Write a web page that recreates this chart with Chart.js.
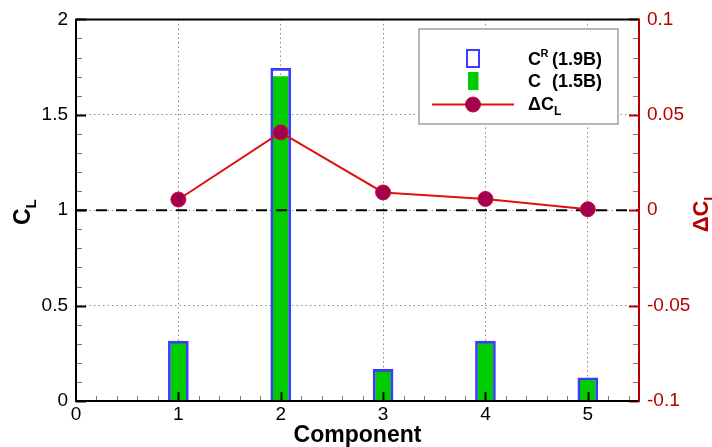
<!DOCTYPE html>
<html>
<head>
<meta charset="utf-8">
<script src="https://cdn.jsdelivr.net/npm/chart.js@4.4.0/dist/chart.umd.min.js"></script>
<style>
  html, body { margin: 0; padding: 0; background: #ffffff; }
  #wrap { width: 712px; height: 447px; }
</style>
</head>
<body>
<div id="wrap"><canvas id="cl" width="712" height="447"></canvas></div>
<script>
// Lift coefficient per component
const components = [1, 2, 3, 4, 5];
const clRefined = [0.314, 1.743, 0.166, 0.314, 0.122];   // C^R (1.9B)
const clBase    = [0.305, 1.700, 0.155, 0.305, 0.114];   // C   (1.5B)
const deltaCL   = [0.0056, 0.0408, 0.0093, 0.0059, 0.0005];

// Axis ticks
const xTicks  = [0, 1, 2, 3, 4, 5];
const yTicks  = [0, 0.5, 1, 1.5, 2];
const y2Ticks = [-0.1, -0.05, 0, 0.05, 0.1];
const xRange  = [0, 5.5];
const yRange  = [0, 2];
const y2Range = [-0.1, 0.1];
const xMinorStep = 0.2, yMinorStep = 0.1, y2MinorStep = 0.01;
const referenceCL = 1;

const FONT = '"Liberation Sans", Arial, Helvetica, sans-serif';
const AXIS_RED = '#b50000';
const LINE_RED = '#e01010';
const MARKER = '#a3004d';
const BLUE = '#3a3cff';
const GREEN = '#00cc00';

const pts = (xs, ys) => xs.map((x, i) => ({ x: x, y: ys[i] }));
const setTicks = vals => scale => { scale.ticks = vals.map(v => ({ value: v })); };
const dottedGrid = { display: true, color: '#8a8a8a', lineWidth: 1, drawTicks: false, tickLength: 0 };
const dottedBorder = { display: false, dash: [1.5, 3] };

// Text with an optional sub- or superscript part
function richText(ctx, x, y, parts) {
  let cx = x;
  for (const p of parts) {
    ctx.font = p.font;
    ctx.fillText(p.t, cx, y + (p.dy || 0));
    cx += ctx.measureText(p.t).width + (p.gap || 0);
  }
  return cx;
}
function richWidth(ctx, parts) {
  let w = 0;
  for (const p of parts) { ctx.font = p.font; w += ctx.measureText(p.t).width + (p.gap || 0); }
  return w;
}

const framePlugin = {
  id: 'frame',
  afterDatasetsDraw(chart) {
    const { ctx, chartArea: a, scales } = chart;
    const sx = scales.x, sy = scales.y, sy2 = scales.y2;
    ctx.save();
    ctx.lineCap = 'butt';

    // inward minor / major ticks
    function tickX(v, len, color, w) {
      const p = Math.round(sx.getPixelForValue(v)) + 0.5;
      ctx.strokeStyle = color; ctx.lineWidth = w;
      ctx.beginPath(); ctx.moveTo(p, a.bottom); ctx.lineTo(p, a.bottom - len); ctx.stroke();
    }
    function tickY(scale, v, len, color, w, right) {
      const p = Math.round(scale.getPixelForValue(v)) + 0.5;
      const x0 = right ? a.right : a.left;
      ctx.strokeStyle = color; ctx.lineWidth = w;
      ctx.beginPath(); ctx.moveTo(x0, p); ctx.lineTo(right ? x0 - len : x0 + len, p); ctx.stroke();
    }
    const nx = Math.round((xRange[1] - xRange[0]) / xMinorStep);
    for (let i = 1; i < nx; i++) {
      const v = xRange[0] + i * xMinorStep;
      if (Math.abs(v - Math.round(v)) > 1e-6) tickX(v, 5, '#777', 1);
    }
    xTicks.forEach(v => { if (v > xRange[0]) tickX(v, 9, '#000', 2); });

    const ny = Math.round((yRange[1] - yRange[0]) / yMinorStep);
    for (let i = 1; i < ny; i++) {
      const v = yRange[0] + i * yMinorStep;
      if (!yTicks.some(t => Math.abs(t - v) < 1e-6)) tickY(sy, v, 6, '#777', 1, false);
    }
    yTicks.forEach(v => tickY(sy, v, 10, '#000', 2, false));

    const ny2 = Math.round((y2Range[1] - y2Range[0]) / y2MinorStep);
    for (let i = 1; i < ny2; i++) {
      const v = y2Range[0] + i * y2MinorStep;
      if (!y2Ticks.some(t => Math.abs(t - v) < 1e-6)) tickY(sy2, v, 6, '#d06060', 1, true);
    }
    y2Ticks.forEach(v => tickY(sy2, v, 10, AXIS_RED, 2, true));

    // frame
    ctx.lineWidth = 2;
    ctx.strokeStyle = '#000';
    ctx.beginPath();
    ctx.moveTo(a.right, a.top); ctx.lineTo(a.left, a.top); ctx.lineTo(a.left, a.bottom); ctx.lineTo(a.right, a.bottom);
    ctx.stroke();
    ctx.strokeStyle = AXIS_RED;
    ctx.beginPath(); ctx.moveTo(a.right, a.top - 1); ctx.lineTo(a.right, a.bottom + 1); ctx.stroke();
    ctx.restore();
  },
  afterDraw(chart) {
    const { ctx, chartArea: a } = chart;
    ctx.save();
    ctx.textBaseline = 'alphabetic';

    // x title
    ctx.fillStyle = '#000';
    ctx.font = 'bold 23px ' + FONT;
    ctx.textAlign = 'center';
    ctx.fillText('Component', (a.left + a.right) / 2, 442);
    ctx.textAlign = 'left';

    // left title C_L
    const leftParts = [
      { t: 'C', font: 'bold 23px ' + FONT },
      { t: 'L', font: 'bold 15px ' + FONT, dy: 6 }
    ];
    ctx.save();
    ctx.translate(30, (a.top + a.bottom) / 2 + 2);
    ctx.rotate(-Math.PI / 2);
    richText(ctx, -richWidth(ctx, leftParts) / 2, 0, leftParts);
    ctx.restore();

    // right title ΔC_L
    const rightParts = [
      { t: '\u0394C', font: 'bold 22px ' + FONT },
      { t: 'L', font: 'bold 14px ' + FONT, dy: 6 }
    ];
    ctx.save();
    ctx.fillStyle = AXIS_RED;
    ctx.translate(708, (a.top + a.bottom) / 2 + 2);
    ctx.rotate(-Math.PI / 2);
    richText(ctx, -richWidth(ctx, rightParts) / 2, 0, rightParts);
    ctx.restore();

    // legend
    const L = { x: 419, y: 29, w: 199, h: 95 };
    ctx.fillStyle = '#fff';
    ctx.fillRect(L.x, L.y, L.w, L.h);
    ctx.strokeStyle = '#a0a0a0'; ctx.lineWidth = 1.5;
    ctx.strokeRect(L.x, L.y, L.w, L.h);

    ctx.strokeStyle = BLUE; ctx.lineWidth = 2;
    ctx.strokeRect(467, 50, 12, 17);
    ctx.fillStyle = GREEN;
    ctx.fillRect(468, 72, 10.5, 18);
    ctx.strokeStyle = LINE_RED; ctx.lineWidth = 2;
    ctx.beginPath(); ctx.moveTo(432, 104.5); ctx.lineTo(514, 104.5); ctx.stroke();
    ctx.fillStyle = MARKER; ctx.strokeStyle = '#cc1030'; ctx.lineWidth = 1;
    ctx.beginPath(); ctx.arc(473, 104.5, 7.5, 0, Math.PI * 2); ctx.fill(); ctx.stroke();

    ctx.fillStyle = '#000';
    const bf = 'bold 18px ' + FONT;
    ctx.font = bf;
    ctx.fillText('C', 528, 65);
    ctx.font = 'bold 11px ' + FONT;
    ctx.fillText('R', 540.5, 57);
    ctx.font = bf;
    ctx.fillText('(1.9B)', 552, 65);
    ctx.fillText('C', 528, 87);
    ctx.fillText('(1.5B)', 552, 87);
    richText(ctx, 528, 110, [
      { t: '\u0394C', font: bf },
      { t: 'L', font: 'bold 12px ' + FONT, dy: 5 }
    ]);
    ctx.restore();
  }
};

new Chart(document.getElementById('cl'), {
  type: 'bar',
  data: {
    datasets: [
      {
        type: 'line',
        label: '\u0394CL',
        data: pts(components, deltaCL),
        yAxisID: 'y2',
        borderColor: LINE_RED,
        borderWidth: 2,
        pointRadius: 7.5,
        pointBackgroundColor: MARKER,
        pointBorderColor: '#cc1030',
        pointBorderWidth: 1,
        tension: 0,
        order: 0
      },
      {
        type: 'line',
        label: 'reference',
        data: [{ x: xRange[0], y: referenceCL }, { x: xRange[1], y: referenceCL }],
        yAxisID: 'y',
        borderColor: '#000',
        borderWidth: 2,
        borderDash: [11, 9],
        pointRadius: 0,
        order: 1
      },
      {
        label: 'C^R (1.9B)',
        data: pts(components, clRefined),
        yAxisID: 'y',
        backgroundColor: 'rgba(0,0,0,0)',
        borderColor: BLUE,
        borderWidth: { top: 2, left: 2, right: 2, bottom: 0 },
        borderSkipped: false,
        barThickness: 20,
        grouped: false,
        order: 2
      },
      {
        label: 'C (1.5B)',
        data: pts(components, clBase),
        yAxisID: 'y',
        backgroundColor: GREEN,
        borderWidth: 0,
        barThickness: 15,
        grouped: false,
        order: 3
      }
    ]
  },
  options: {
    responsive: false,
    animation: false,
    events: [],
    layout: { padding: { top: 19, left: 0, right: 0, bottom: 0 } },
    plugins: { legend: { display: false }, tooltip: { enabled: false } },
    scales: {
      x: {
        type: 'linear',
        offset: false,
        min: xRange[0], max: xRange[1],
        afterBuildTicks: setTicks(xTicks),
        afterFit: s => { s.height = 46; },
        grid: Object.assign({}, dottedGrid, { offset: false }),
        border: dottedBorder,
        ticks: { color: '#000', font: { family: FONT, size: 19 }, padding: 2, maxRotation: 0,
                 callback: v => String(v) }
      },
      y: {
        type: 'linear', position: 'left',
        min: yRange[0], max: yRange[1],
        afterBuildTicks: setTicks(yTicks),
        afterFit: s => { s.width = 76; },
        grid: dottedGrid,
        border: dottedBorder,
        ticks: { color: '#000', font: { family: FONT, size: 19 }, padding: 8,
                 callback: v => String(v) }
      },
      y2: {
        type: 'linear', position: 'right',
        min: y2Range[0], max: y2Range[1],
        afterBuildTicks: setTicks(y2Ticks),
        afterFit: s => { s.width = 73; },
        grid: { display: false, drawTicks: false, tickLength: 0 },
        border: { display: false },
        ticks: { color: AXIS_RED, font: { family: FONT, size: 19 }, padding: 8,
                 callback: v => String(v) }
      }
    }
  },
  plugins: [framePlugin]
});
</script>
</body>
</html>
